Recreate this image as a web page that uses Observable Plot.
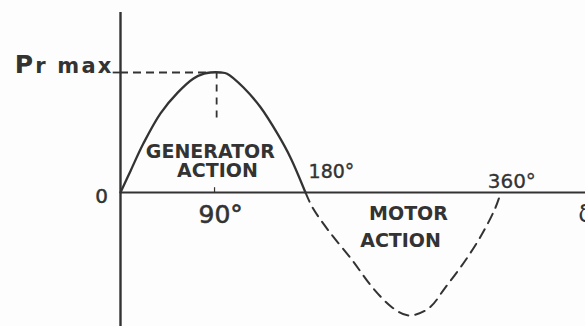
<!DOCTYPE html>
<html><head><meta charset="utf-8">
<script src="https://cdn.jsdelivr.net/npm/d3@7"></script>
<script src="https://cdn.jsdelivr.net/npm/@observablehq/plot@0.6"></script>
<style>
html,body{margin:0;padding:0;background:#fdfdfd;overflow:hidden;}
svg{display:block}
</style>
</head><body><div id="chart"></div>
<script>
// Power-angle curve, values (P in units of Pr max, angle in degrees)
const genAngle = [0, 9.6, 22, 38.3, 54.5, 69.9, 80, 86, 96, 102, 117.7, 134, 150.2, 162.7, 177];
const genPower = [0, 0.18, 0.41, 0.66, 0.83, 0.95, 0.99, 1.0, 1.0, 0.99, 0.875, 0.71, 0.49, 0.29, 0];
const motAngle = [177, 183.7, 199, 222, 241, 260.3, 275.6, 294.7, 311, 330, 346.4, 358.9, 363.6];
const motPower = [0, -0.125, -0.317, -0.567, -0.79, -0.96, -1.025, -0.967, -0.79, -0.567, -0.34, -0.125, -0.01];
const angleTicks = [0, 90, 180, 360];
const angleLabels = ["0", "90°", "180°", "360°"];
const regionLabels = ["GENERATOR", "ACTION", "MOTOR", "ACTION"];
const pmaxLabel = "Pr max";
const axisLabel = "δ";
const pMax = 1;
const peakAngle = 92;

const gen = genAngle.map((a, i) => ({a, p: genPower[i]}));
const mot = motAngle.map((a, i) => ({a, p: motPower[i]}));
const ink = "#333333";
const font = "DejaVu Sans";

const chart = Plot.plot({
  width: 585, height: 326,
  marginLeft: 120, marginRight: 0, marginTop: 0, marginBottom: 0,
  x: {domain: [0, 445], axis: null},
  y: {domain: [-1.1167, 1.6], axis: null},
  style: {background: "#fdfdfd", fontFamily: font, overflow: "hidden"},
  marks: [
    Plot.ruleY([0], {x1: 0, x2: 450, stroke: ink, strokeWidth: 2.2}),
    Plot.ruleX([0], {y1: -1.12, y2: 1.5, stroke: ink, strokeWidth: 2.4}),
    Plot.ruleY([pMax], {x1: -7, x2: 0, stroke: ink, strokeWidth: 1.8}),
    Plot.ruleY([pMax], {x1: 0, x2: 84, stroke: ink, strokeWidth: 1.8, strokeDasharray: "8,5"}),
    Plot.ruleX([peakAngle], {y1: 0.62, y2: pMax, stroke: ink, strokeWidth: 1.8, strokeDasharray: "7,6"}),
    Plot.ruleX([angleTicks[1]], {y1: 0, y2: 0.04, stroke: ink, strokeWidth: 1.2}),
    Plot.line(gen, {x: "a", y: "p", curve: "catmull-rom", stroke: ink, strokeWidth: 2.3}),
    Plot.line(mot, {x: "a", y: "p", curve: "catmull-rom", stroke: ink, strokeWidth: 2, strokeDasharray: "10,7"}),
    // angle labels
    Plot.text([0], {x: () => angleTicks[0], y: () => 0, text: () => angleLabels[0], dx: -19, dy: 11, lineAnchor: "bottom", textAnchor: "middle", fontSize: 20, fill: ink, stroke: ink, strokeWidth: 0.5}),
    Plot.text([0], {x: () => angleTicks[1], y: () => 0, text: () => angleLabels[1], dx: -16, dy: 31, lineAnchor: "bottom", textAnchor: "start", fontSize: 25, fill: ink, stroke: ink, strokeWidth: 0.6}),
    Plot.text([0], {x: () => angleTicks[2], y: () => 0, text: () => angleLabels[2], dx: 0, dy: -14, lineAnchor: "bottom", textAnchor: "start", fontSize: 19, fill: ink, stroke: ink, strokeWidth: 0.4}),
    Plot.text([0], {x: () => angleTicks[3], y: () => 0, text: () => angleLabels[3], dx: -9, dy: -4, lineAnchor: "bottom", textAnchor: "start", fontSize: 20, fill: ink, stroke: ink, strokeWidth: 0.3}),
    // region labels
    Plot.text([0], {x: () => 86, y: () => 0.29, text: () => regionLabels[0], lineAnchor: "bottom", textAnchor: "middle", fontSize: 19, fontWeight: "bold", fill: ink}),
    Plot.text([0], {x: () => 92.8, y: () => 0.125, text: () => regionLabels[1], lineAnchor: "bottom", textAnchor: "middle", fontSize: 19, fontWeight: "bold", fill: ink}),
    Plot.text([0], {x: () => 275.6, y: () => -0.233, text: () => regionLabels[2], lineAnchor: "bottom", textAnchor: "middle", fontSize: 19, fontWeight: "bold", fill: ink}),
    Plot.text([0], {x: () => 268, y: () => -0.458, text: () => regionLabels[3], lineAnchor: "bottom", textAnchor: "middle", fontSize: 19, fontWeight: "bold", fill: ink}),
    // Pr max label
    Plot.text([0], {x: () => 0, y: () => pMax, text: () => pmaxLabel, dx: -7, dy: 1, lineAnchor: "bottom", textAnchor: "end", fontSize: 21, fontWeight: "bold", fill: ink}),
    // delta axis label
    Plot.text([0], {x: () => 438, y: () => -0.25, text: () => axisLabel, lineAnchor: "bottom", textAnchor: "start", fontSize: 24, fill: ink})
  ]
});

// Enlarge the "P" of the Pr max label and widen its lettering
d3.select(chart).selectAll("text").each(function() {
  if (this.textContent === pmaxLabel) {
    const t = d3.select(this);
    t.text(null).attr("letter-spacing", "2.2");
    t.append("tspan").attr("font-size", 25).text(pmaxLabel.slice(0, 1));
    t.append("tspan").text(pmaxLabel.slice(1));
  }
});
document.getElementById("chart").appendChild(chart);
</script>
</body></html>
